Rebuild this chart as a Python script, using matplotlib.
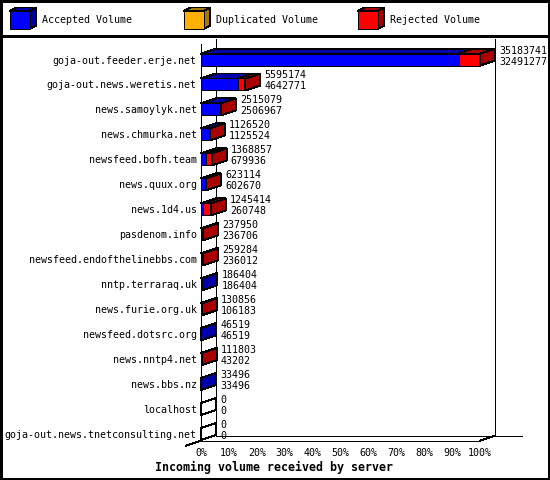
import matplotlib
matplotlib.use("Agg")
import matplotlib.pyplot as plt
from matplotlib.patches import Polygon
from matplotlib.lines import Line2D
import numpy as np

# ---------------- data ----------------
servers = [
    "goja-out.feeder.erje.net",
    "goja-out.news.weretis.net",
    "news.samoylyk.net",
    "news.chmurka.net",
    "newsfeed.bofh.team",
    "news.quux.org",
    "news.1d4.us",
    "pasdenom.info",
    "newsfeed.endofthelinebbs.com",
    "nntp.terraraq.uk",
    "news.furie.org.uk",
    "newsfeed.dotsrc.org",
    "news.nntp4.net",
    "news.bbs.nz",
    "localhost",
    "goja-out.news.tnetconsulting.net",
]
offered = [35183741, 5595174, 2515079, 1126520, 1368857, 623114, 1245414,
           237950, 259284, 186404, 130856, 46519, 111803, 33496, 0, 0]
accepted = [32491277, 4642771, 2506967, 1125524, 679936, 602670, 260748,
            236706, 236012, 186404, 106183, 46519, 43202, 33496, 0, 0]
duplicated = [0] * len(servers)
rejected = [o - a - d for o, a, d in zip(offered, accepted, duplicated)]

series_names = ["Accepted Volume", "Duplicated Volume", "Rejected Volume"]
face_colors = ["#0000FF", "#FFB000", "#FF0000"]
shade_colors = ["#0000AA", "#AA7500", "#AA0000"]
xticks = list(range(0, 101, 10))
xlabel_text = "Incoming volume received by server"

# ---------------- figure ----------------
W, H = 550, 480
plt.rcParams['font.family'] = ['DejaVu Sans Mono', 'DejaVu Sans']
fig = plt.figure(figsize=(W / 100, H / 100), dpi=100)
fig.patch.set_facecolor("white")

LW = 0.72  # 1 px
DX, DY = 15, 5  # 3D depth in pixels
FS = 7.2

# overlay axes in pixel coordinates (frame + legend)
ov = fig.add_axes([0, 0, 1, 1], zorder=0)
ov.set_xlim(0, W)
ov.set_ylim(H, 0)
ov.axis("off")
ov.add_line(Line2D([1, W - 1, W - 1, 1, 1],
                   [1, 1, H - 1, H - 1, 1], color="black", lw=LW * 1.4,
                   antialiased=False, clip_on=False))
ov.add_line(Line2D([0, W], [35.5, 35.5], color="black", lw=LW * 1.4, antialiased=False))

leg_x = [10, 184, 358]
for k, name in enumerate(series_names):
    x0, y0, w, h, ddx, ddy = leg_x[k], 11, 20, 18, 6, 3.5
    ov.add_patch(Polygon([(x0, y0), (x0 + ddx, y0 - ddy), (x0 + w + ddx, y0 - ddy), (x0 + w, y0)],
                         closed=True, fc=shade_colors[k], ec="black", lw=LW, antialiased=False))
    ov.add_patch(Polygon([(x0 + w, y0), (x0 + w + ddx, y0 - ddy), (x0 + w + ddx, y0 + h - ddy), (x0 + w, y0 + h)],
                         closed=True, fc=shade_colors[k], ec="black", lw=LW, antialiased=False))
    ov.add_patch(Polygon([(x0, y0), (x0 + w, y0), (x0 + w, y0 + h), (x0, y0 + h)],
                         closed=True, fc=face_colors[k], ec="black", lw=LW, antialiased=False))
    ov.text(x0 + 32, 20, name, fontsize=FS, va="center", ha="left")

# main axes (front plane)
n = len(servers)
ax = fig.add_axes([201 / W, (H - 440.7) / H, 279 / W, 396.4 / H], zorder=1)
ax.patch.set_alpha(0)
ax.set_xlim(0, 100)
ytop, ybot = -0.61, n - 1 + 0.27
ax.set_ylim(ybot, ytop)
for s in ax.spines.values():
    s.set_visible(False)
ax.set_xticks(xticks, [f"{t}%" for t in xticks])
ax.set_yticks(range(n), servers)
ax.tick_params(axis="both", length=0, labelsize=FS)
ax.tick_params(axis="y", pad=3.1)
ax.tick_params(axis="x", pad=5)

# depth offset in data units
p0 = ax.transData.transform((0, 0))
bx, by = ax.transData.inverted().transform(p0 + np.array([DX, DY]))
ddx, ddy = bx, by  # ddy negative (upwards on inverted axis)
extra = ax.transData.inverted().transform(p0 + np.array([27, 0]))[0]


def line(xs, ys, z=1):
    ax.add_line(Line2D(xs, ys, color="black", lw=LW, clip_on=False,
                       antialiased=False, zorder=z))


# walls / floor
line([0, 0], [ytop, ybot])
line([ddx, ddx], [ytop + ddy, ybot + ddy])
line([100 + ddx, 100 + ddx], [ytop + ddy, ybot + ddy])
line([0, 100], [ybot, ybot])
line([ddx, 100 + ddx + extra], [ybot + ddy, ybot + ddy])
line([100, 100 + ddx], [ybot, ybot + ddy])
line([0, -ddx], [ybot, ybot - ddy])

maxv = max(offered)
half = 0.24


def poly(pts, fc, z):
    ax.add_patch(Polygon(pts, closed=True, fc=fc, ec="black", lw=LW,
                         clip_on=False, antialiased=False, zorder=z))


for i in range(n):
    top, bot = i - half, i + half
    x = 0.0
    last = None
    for k, vals in enumerate([accepted, duplicated, rejected]):
        v = vals[i]
        if v <= 0:
            continue
        w = v / maxv * 100
        poly([(x, top), (x + w, top), (x + w + ddx, top + ddy), (x + ddx, top + ddy)],
             shade_colors[k], 3)
        poly([(x, top), (x + w, top), (x + w, bot), (x, bot)], face_colors[k], 3)
        x += w
        last = k
    side_fc = shade_colors[last] if last is not None else "white"
    poly([(x, top), (x, bot), (x + ddx, bot + ddy), (x + ddx, top + ddy)], side_fc, 3)
    ax.annotate(str(offered[i]), xy=(x + ddx, i), xytext=(4, 9),
                textcoords="offset pixels", va="center", ha="left",
                fontsize=FS, annotation_clip=False)
    ax.annotate(str(accepted[i]), xy=(x + ddx, i), xytext=(4, -2),
                textcoords="offset pixels", va="center", ha="left",
                fontsize=FS, annotation_clip=False)

fig.text(274 / W, 1 - 467.7 / H, xlabel_text, ha="center", va="center",
         fontsize=8.4, fontweight="bold")

fig.savefig("out.png", dpi=100)
